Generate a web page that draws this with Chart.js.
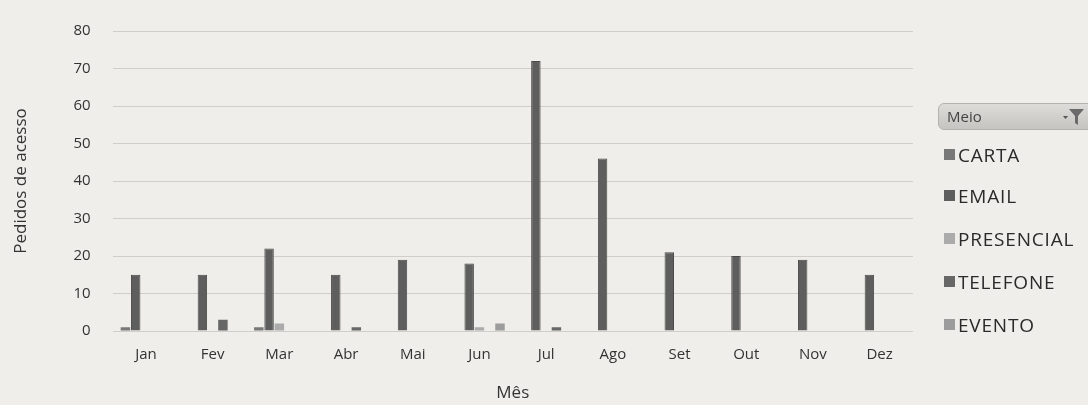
<!DOCTYPE html>
<html>
<head>
<meta charset="utf-8">
<script src="https://cdn.jsdelivr.net/npm/chart.js@4"></script>
<style>
  body { margin: 0; background: #efeeea; font-family: "Open Sans", sans-serif; }
  #wrap { position: relative; width: 1088px; height: 405px; overflow: hidden; }
  #grafico { position: absolute; left: 0; top: 0; }
  #filtro {
    position: absolute; left: 938px; top: 103px; width: 160px; height: 27px;
    border: 1px solid #b4b2ae; border-radius: 6px;
    background: linear-gradient(#dedcd8, #c6c4c0);
    box-sizing: border-box;
  }
  #filtro span { position: absolute; left: 8px; top: 2px; font-size: 15px; color: #444; }
  #filtro svg { position: absolute; left: 122px; top: 3px; }
  #legenda { position: absolute; left: 944px; top: 0; }
  .item { position: absolute; left: 0; white-space: nowrap; font-size: 19px; color: #2a2a2a; letter-spacing: 0.8px; }
  .item i { display: inline-block; width: 11px; height: 11px; margin-right: 3px; vertical-align: 2px; }
</style>
</head>
<body>
<div id="wrap">
  <canvas id="grafico" width="1088" height="405"></canvas>
  <div id="filtro"><span>Meio</span>
    <svg width="24" height="20" viewBox="0 0 24 20">
      <polygon points="2,9 7,9 4.5,12" fill="#555"/>
      <polygon points="8,2 23,2 17,9 17,18 14,16 14,9" fill="#6a6a6a"/>
    </svg>
  </div>
  <div id="legenda"></div>
</div>
<script>
// dados do grafico
const meses = ['Jan', 'Fev', 'Mar', 'Abr', 'Mai', 'Jun', 'Jul', 'Ago', 'Set', 'Out', 'Nov', 'Dez'];
const carta = [1, 0, 1, 0, 0, 0, 0, 0, 0, 0, 0, 0];
const email = [15, 15, 22, 15, 19, 18, 72, 46, 21, 20, 19, 15];
const presencial = [0, 0, 2, 0, 0, 1, 0, 0, 0, 0, 0, 0];
const telefone = [0, 3, 0, 1, 0, 0, 1, 0, 0, 0, 0, 0];
const evento = [0, 0, 0, 0, 0, 2, 0, 0, 0, 0, 0, 0];
const yMin = 0, yMax = 80, yStep = 10;

const series = [
    { label: 'CARTA', data: carta, color: '#787878' },
    { label: 'EMAIL', data: email, color: '#5e5e5e' },
    { label: 'PRESENCIAL', data: presencial, color: '#ababab' },
    { label: 'TELEFONE', data: telefone, color: '#676767' },
    { label: 'EVENTO', data: evento, color: '#9c9c9c' }
];

// legenda em html
const legenda = document.getElementById('legenda');
const legTops = [142, 183, 226, 269, 312];
series.forEach((s, i) => {
    let div = document.createElement('div');
    div.className = 'item';
    div.style.top = legTops[i] + 'px';
    div.innerHTML = `<i style="background:${s.color}"></i>${s.label}`;
    legenda.appendChild(div);
});

const fonteEixo = { family: 'Open Sans', size: 15 };
const fonteTitulo = { family: 'Open Sans', size: 17 };

new Chart(document.getElementById('grafico'), {
    type: 'bar',
    data: {
        labels: meses,
        datasets: series.map(s => ({
            label: s.label,
            data: s.data.map(v => v === 0 ? null : v),
            backgroundColor: s.color,
            borderColor: '#4a4a4a',
            borderWidth: s.label === 'EMAIL' ? 1 : 0
        }))
    },
    options: {
        responsive: false,
        animation: false,
        categoryPercentage: 0.77,
        barPercentage: 0.92,
        layout: { padding: { left: 0, right: 175, top: 28, bottom: 0 } },
        plugins: { legend: { display: false }, tooltip: { enabled: false } },
        scales: {
            x: {
                grid: { display: false, drawTicks: false },
                border: { display: false },
                ticks: { color: '#333', font: fonteEixo, padding: 15 },
                title: { display: true, text: 'Mês', color: '#333', font: fonteTitulo, padding: { top: 0, bottom: 2 } },
                afterFit: (scale) => { scale.height = 74; }
            },
            y: {
                min: yMin,
                max: yMax,
                ticks: { stepSize: yStep, color: '#333', font: fonteEixo, padding: 22 },
                grid: { color: '#cfcec9', lineWidth: 1, drawTicks: false },
                border: { display: false },
                title: { display: true, text: 'Pedidos de acesso', color: '#333', font: fonteTitulo, padding: { top: 11, bottom: 0 } },
                afterFit: (scale) => { scale.width = 112.6; }
            }
        }
    }
});
</script>
</body>
</html>
